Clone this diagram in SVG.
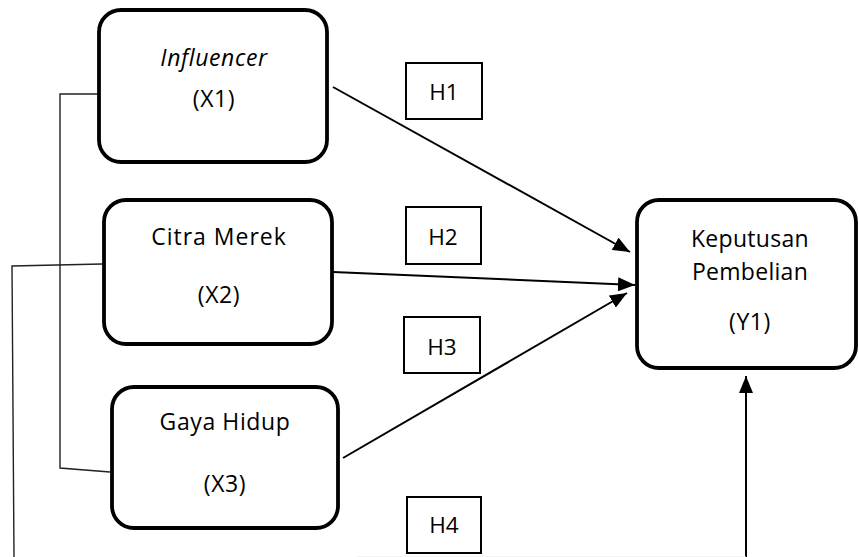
<svg xmlns="http://www.w3.org/2000/svg" width="859" height="557" viewBox="0 0 859 557">
<style>
.node{fill:#fff;stroke:#000;stroke-width:3.8}
.hbox{fill:#fff;stroke:#000;stroke-width:2}
.t{font-family:"Open Sans","Liberation Sans",sans-serif;font-size:23px;fill:#000;text-anchor:middle;letter-spacing:0.6px}
.h{font-family:"Open Sans","Liberation Sans",sans-serif;font-size:22.5px;fill:#000;text-anchor:middle}
.arr{stroke:#000;stroke-width:2;fill:none;marker-end:url(#ah)}
.thin{stroke:#222;stroke-width:1.4;fill:none}
</style>
<defs>
<marker id="ah" markerUnits="userSpaceOnUse" markerWidth="18" markerHeight="14" refX="17" refY="7" orient="auto">
<path d="M0,0 L17,7 L0,14 Z" fill="#000"/>
</marker>
</defs>
<rect width="859" height="557" fill="#fff"/>
<g id="connectors">
<polyline class="thin" points="98,94 60,94 60,468 110,472"/>
<polyline class="thin" points="102,264 12,266 14,557"/>
<line class="arr" x1="333" y1="87" x2="630" y2="252"/>
<line class="arr" x1="333" y1="272" x2="635" y2="285"/>
<line class="arr" x1="343" y1="458" x2="627" y2="293"/>
<line class="arr" x1="746" y1="557" x2="746" y2="376"/>
<line x1="357" y1="556.7" x2="746" y2="556.7" stroke="#ececec" stroke-width="0.8"/>
</g>
<g id="x1">
<rect class="node" x="99" y="10" width="228" height="152" rx="22"/>
<text class="t" x="214" y="66" font-style="italic">Influencer</text>
<text class="t" x="214" y="107">(X1)</text>
</g>
<g id="x2">
<rect class="node" x="104" y="200" width="228" height="144" rx="22"/>
<text class="t" x="219" y="245" style="letter-spacing:1px">Citra Merek</text>
<text class="t" x="219" y="303">(X2)</text>
</g>
<g id="x3">
<rect class="node" x="112" y="387" width="226" height="141" rx="22"/>
<text class="t" x="225" y="430">Gaya Hidup</text>
<text class="t" x="225" y="492">(X3)</text>
</g>
<g id="y1">
<rect class="node" x="637" y="200" width="219" height="168" rx="22"/>
<text class="t" x="750" y="247" style="letter-spacing:0.3px">Keputusan</text>
<text class="t" x="750" y="280" style="letter-spacing:0.3px">Pembelian</text>
<text class="t" x="750" y="330">(Y1)</text>
</g>
<g id="h1">
<rect class="hbox" x="406" y="63" width="76" height="56"/>
<text class="h" x="444" y="100">H1</text>
</g>
<g id="h2">
<rect class="hbox" x="406" y="207" width="75" height="57"/>
<text class="h" x="443" y="245">H2</text>
</g>
<g id="h3">
<rect class="hbox" x="404" y="317" width="76" height="56"/>
<text class="h" x="442" y="355">H3</text>
</g>
<g id="h4">
<rect class="hbox" x="407" y="497" width="74" height="56"/>
<text class="h" x="444" y="533">H4</text>
</g>
</svg>
